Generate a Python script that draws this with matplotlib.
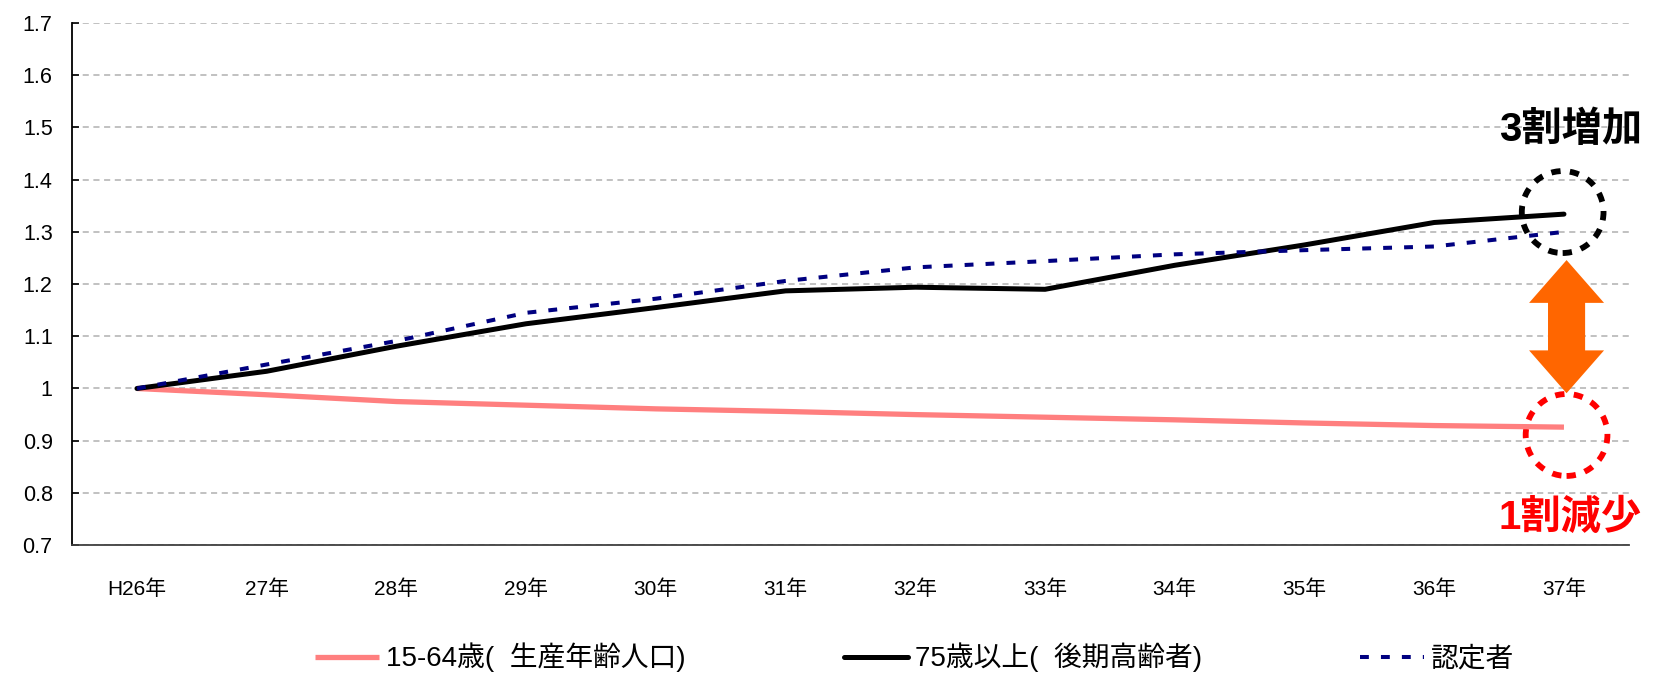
"""
Ratio of working-age population, 75+ population and certified persons (H26 = 1)
"""

import matplotlib
matplotlib.use('Agg')
import matplotlib.pyplot as plt
from matplotlib.patches import Ellipse, Polygon

# Data
years = ['H26年', '27年', '28年', '29年', '30年', '31年',
         '32年', '33年', '34年', '35年', '36年', '37年']
working_age = [1.0, 0.988, 0.975, 0.968, 0.961, 0.956,
               0.950, 0.945, 0.940, 0.934, 0.929, 0.926]
over_75 = [1.0, 1.033, 1.081, 1.124, 1.155, 1.187,
           1.194, 1.190, 1.236, 1.275, 1.318, 1.334]
certified = [1.0, 1.046, 1.091, 1.145, 1.172, 1.206,
             1.232, 1.244, 1.257, 1.265, 1.272, 1.300]
yticks = [0.7, 0.8, 0.9, 1.0, 1.1, 1.2, 1.3, 1.4, 1.5, 1.6, 1.7]
ytick_labels = ['0.7', '0.8', '0.9', '1', '1.1', '1.2', '1.3', '1.4', '1.5', '1.6', '1.7']

plt.rcParams['font.family'] = ['Liberation Sans', 'Noto Sans CJK JP']

fig = plt.figure(figsize=(16.57, 6.78), dpi=100)
ax = fig.add_axes([0.0435, 0.196, 0.9395, 0.77])

x = list(range(len(years)))

# Draw the three lines
ax.plot(x, working_age, color='#ff7f7f', lw=3.8, solid_capstyle='butt',
        label='15-64歳(  生産年齢人口)')
ax.plot(x, over_75, color='black', lw=3.6, solid_capstyle='round',
        label='75歳以上(  後期高齢者)')
ax.plot(x, certified, color='#000080', lw=2.9, dashes=(2.2, 3.0),
        label='認定者')

# Axes look
ax.set_xlim(-0.5, len(years) - 0.5)
ax.set_ylim(0.7, 1.7)
ax.set_xticks(x)
ax.set_xticklabels(years, fontsize=15)
ax.set_yticks(yticks)
ax.set_yticklabels(ytick_labels, fontsize=15.5)
ax.tick_params(axis='x', length=0, pad=25)
ax.tick_params(axis='y', direction='in', length=5, width=1.2, pad=14)
ax.yaxis.grid(True, color='#b0b0b0', linestyle=(0, (4, 3)), lw=1.1)
ax.set_axisbelow(True)
for side in ['top', 'right']:
    ax.spines[side].set_visible(False)
ax.spines['left'].set_linewidth(1.3)
ax.spines['bottom'].set_color('#404040')
ax.spines['bottom'].set_linewidth(1.3)

# Highlight circles at the end of the series
ax.add_patch(Ellipse((10.99, 1.338), 0.63, 0.157, fill=False, ec='black',
                     lw=4.2, linestyle=(0, (1.6, 1.6)), clip_on=False))
ax.add_patch(Ellipse((11.02, 0.911), 0.63, 0.157, fill=False, ec='#ff0000',
                     lw=4.2, linestyle=(0, (1.6, 1.6)), clip_on=False))

# Orange double arrow
top, bottom, cx = 1.246, 0.991, 11.02
head, hw, sw = 0.082, 0.289, 0.143
arrow = [(cx, top), (cx + hw, top - head), (cx + sw, top - head),
         (cx + sw, bottom + head), (cx + hw, bottom + head), (cx, bottom),
         (cx - hw, bottom + head), (cx - sw, bottom + head),
         (cx - sw, top - head), (cx - hw, top - head)]
ax.add_patch(Polygon(arrow, closed=True, color='#ff6600', lw=0, clip_on=False))

# Annotations
ax.text(11.05, 1.495, '3割増加', fontsize=29, fontweight='bold',
        ha='center', va='center', color='black', clip_on=False)
ax.text(11.05, 0.752, '1割減少', fontsize=29, fontweight='bold',
        ha='center', va='center', color='#ff0000', clip_on=False)

# Legend at the bottom
fig.legend(loc='center', bbox_to_anchor=(0.552, 0.03), ncol=3,
           frameon=False, fontsize=20, handlelength=2.3,
           handletextpad=0.25, columnspacing=5.7)

fig.savefig('out.png', dpi=100)
